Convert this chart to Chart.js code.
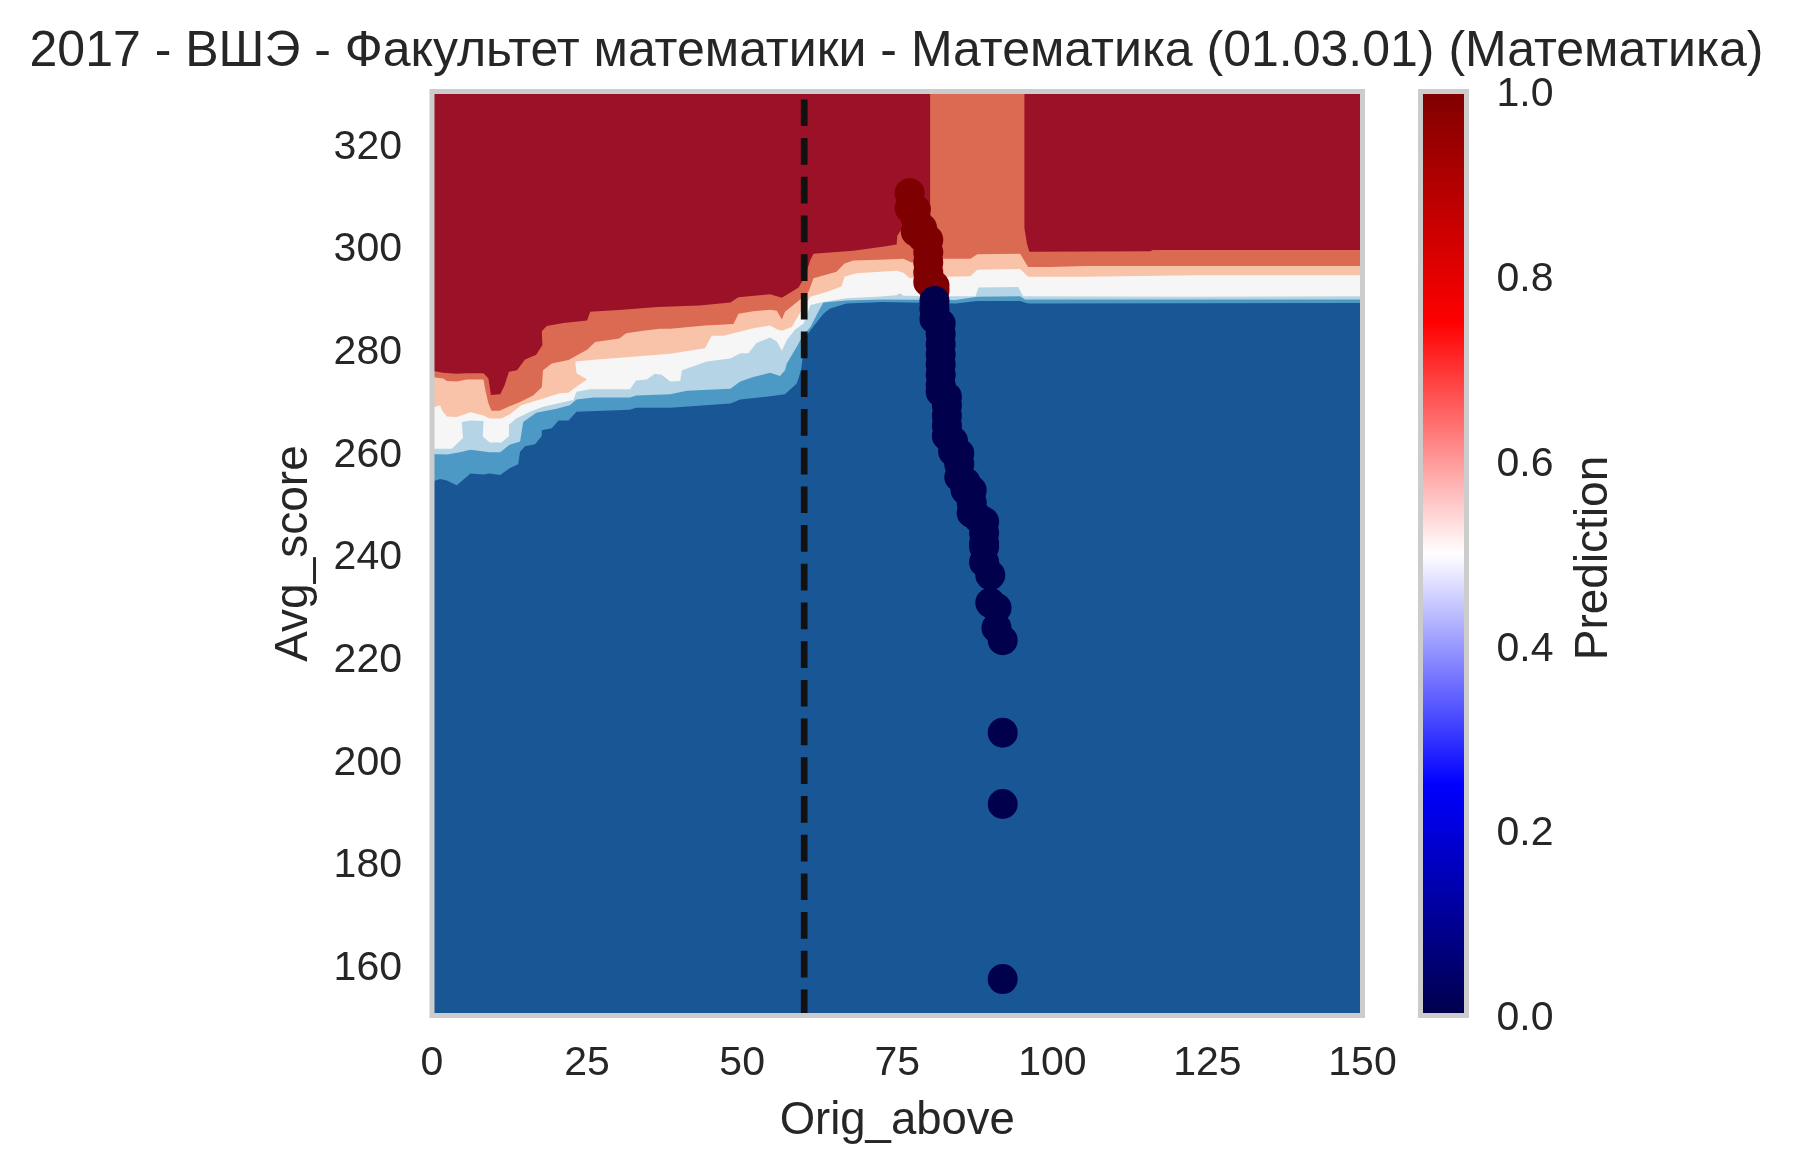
<!DOCTYPE html>
<html>
<head>
<meta charset="utf-8">
<title>Prediction</title>
<script src="https://cdn.jsdelivr.net/npm/chart.js@4"></script>
<style>
  html, body { margin: 0; padding: 0; background: #fff; }
  canvas { position: absolute; left: 0; top: 0; }
</style>
</head>
<body>
<canvas id="main" width="1793" height="1173"></canvas>
<canvas id="cbar" width="1793" height="1173"></canvas>
<script>
// values, [Orig_above, Avg_score]
const titleText = '2017 - ВШЭ - Факультет математики - Математика (01.03.01) (Математика)';
const xTicks = [0, 25, 50, 75, 100, 125, 150];
const yTicks = [160, 180, 200, 220, 240, 260, 280, 300, 320];
const cbarTicks = [0, 0.2, 0.4, 0.6, 0.8, 1];
const thresholdX = 60;

// contour band edges, top to bottom
const edgeTop = [[0,330],[150,330]];
const edgeRedOrange = [[0,275.6],[1.8,275.2],[4,275],[5.6,275.1],[8.3,275.1],[9.1,274.1],[9.5,270.9],[11,271],[11.7,272.8],[12.4,275.4],[13.7,275.7],[15,277.8],[16.8,278.7],[17.8,280.6],[17.7,283.3],[18.5,284.3],[21.2,284.9],[25,285.4],[25.5,287.1],[30.7,287.5],[36.3,288],[43.1,288.3],[48.1,288.9],[49.4,289.9],[54.5,290.5],[56.4,289.8],[59.1,291.8],[59.6,292.9],[60.6,295.7],[61,297.2],[61.5,298.4],[67.9,299],[72.9,299.8],[74.9,300.2],[75,301.9],[76,303.7],[80.3,303.7],[80.3,330],[95.5,330],[95.5,303.4],[95.9,300.4],[96.3,298.8],[115.8,298.9],[116.2,299.1],[150,299.1]];
const edgeOrangePeach = [[0,274.4],[1.8,274.1],[2.4,273.6],[4,273.5],[5.6,273.9],[8.3,273.9],[8.6,271.8],[9.1,269.2],[9.6,267.8],[10.9,267.8],[12.5,268.7],[14.2,269.5],[16.3,270.8],[17.7,272.4],[17.9,275.7],[19.3,277],[22,277.7],[25,279.7],[26.3,281.2],[30.2,281.9],[31.3,282.9],[34,283.4],[36.7,283.8],[38.4,283.8],[44,284.4],[48.6,284.7],[49.4,286.7],[51.8,287.2],[54.5,287.5],[55.6,287.3],[56.4,285.6],[56.9,287.1],[59.6,289.7],[60.7,291],[61.5,293.6],[65.2,294.9],[66.5,296.5],[67.9,297.1],[72.2,297.2],[76,297.4],[77.3,296.7],[82.5,297.4],[86.8,297.4],[87.9,298.3],[94.8,298.4],[96.1,295.8],[99.7,295.8],[105.2,296],[150,296]];
const edgePeachWhite = [[0,268.4],[1.3,268.9],[1.6,267.9],[2.4,266.7],[4,266.6],[6.2,267.5],[8.3,266.9],[9.3,266.3],[11.2,266.3],[12.5,267.1],[14.4,268.9],[17.9,270.2],[20.6,271.2],[22,271.3],[23.6,272.8],[25,273.9],[23.3,275.1],[23.1,277.4],[26.6,277.8],[32.9,278.4],[38.4,278.9],[44,280],[45.1,282.4],[47,282.4],[48.6,282.9],[51.8,283.9],[54.5,284.4],[55.6,283.7],[56.4,283.4],[58,284.1],[59.1,286.4],[61,290],[63.7,291],[66,292],[66.5,293.9],[68.4,294.6],[74.9,295.1],[76,294.7],[77,293.6],[83.3,293.9],[86.8,294],[87.9,295.3],[94.8,295.4],[96.1,293.9],[105.2,293.9],[123,294.2],[150,294.2]];
const edgeWhiteLight = [[0,260.4],[3.2,260.4],[5,262.5],[4.8,265.6],[6.2,265.9],[8.3,265.8],[8.2,262.8],[9.3,261.6],[11.2,261.6],[12.3,262.8],[12.4,265.1],[13.6,266.3],[15.8,267.6],[17.9,268.6],[20.6,269.3],[22.8,269.9],[23.3,271.5],[25.5,272],[31.9,272],[32.9,273.7],[34.6,273.9],[35.9,275],[37,274.8],[38.4,273.5],[40,273.6],[40.3,275.7],[44.3,277.4],[48.1,278],[49.7,279],[51,279],[52.3,281],[54.5,282.1],[55.6,281.3],[56.4,279.5],[57.2,281.6],[58.5,283.6],[59.9,284.8],[61,288.4],[63.1,289],[66.8,289.7],[71.7,290],[74.9,290.3],[75.4,290.7],[76,290.2],[84.4,290.1],[87.6,290.1],[88.1,291.8],[94.5,291.9],[95.3,290.1],[123,290],[150,290.1]];
const edgeLightMid = [[0,259.4],[2.4,259.3],[4.5,259.7],[6.2,260.2],[9.3,259.7],[11,259.7],[12.5,261.2],[14.2,261.8],[14.7,265.6],[16.8,267.4],[20.1,268.2],[22.2,268.9],[23.3,270],[26,270.4],[31.9,270.4],[32.9,270.8],[38.4,271],[41.1,271.7],[48.1,272.1],[49.7,273.5],[51.8,274.4],[54.5,275.2],[56.1,274.6],[56.9,275.7],[57.2,277],[58.8,280.3],[59.6,282.1],[61,284.1],[62.1,286.7],[63.1,288.9],[66.8,289.3],[72.7,289.5],[84.4,289.4],[87.9,290],[94.8,290.1],[95.6,289.5],[150,289.5]];
const edgeMidDark = [[0,254],[1.3,254.5],[2.4,254.2],[4,253.3],[6.2,255.6],[8.3,255.4],[9.3,255.6],[11,255.3],[12.5,256.6],[13.9,257.4],[14.2,259.8],[15,260.9],[16.6,261.3],[17.7,262.9],[17.7,264],[19.3,264.4],[20.4,265.9],[22,265.9],[23.3,267.6],[31.9,268],[32.9,268.4],[38.4,268.4],[48.1,269.2],[49.7,270],[54.2,270.6],[56.9,271],[58.8,273.1],[59.5,275.7],[59.7,277.7],[60.1,282.1],[61,283.5],[63.1,286.7],[64.1,287.7],[66.8,288.7],[72.7,289],[84.4,288.7],[87.9,289.2],[94.8,289.2],[96.1,288.7],[150,288.8]];

// admitted / rejected points
const pointsHigh = [[77,310.2],[77,307.3],[78,307],[78,305.2],[78,302.7],[79,303.4],[79,301.7],[80,301.1],[80,298.7],[80,296.7],[80,294.7],[80,292.9],[81,292.2],[81,291.2]];
const pointsLow = [[81,289.2],[81,287.7],[81,285.7],[82,284.8],[82,282.8],[82,280.8],[82,278.8],[82,276.8],[82,274.8],[82,272.8],[82,271.5],[83,270.5],[83,268.8],[83,266.8],[83,264.9],[83,262.9],[84,261.9],[84,259.9],[85,259.5],[85,257.4],[85,254.9],[86,253.9],[86,252.4],[87,252.3],[87,249.9],[87,247.9],[88,247],[89,246.2],[89,244],[89,242],[89,241.3],[89,238.3],[90,235.8],[90,230.4],[91,229.4],[91,225.5],[92,223.1],[92,205.1],[92,191.2],[92,157.1]];

const gridColor = '#cccccc';
const textColor = '#262626';
const fontName = "'Liberation Sans', Arial, sans-serif";
Chart.defaults.font.family = fontName;
Chart.defaults.color = textColor;
Chart.defaults.animation = false;

const toXY = pairs => pairs.map(p => ({ x: p[0], y: p[1] }));

function band(edge, color, order) {
  return { data: toXY(edge), backgroundColor: color, borderWidth: 0, pointRadius: 0, fill: 'start', tension: 0, order: order };
}
function dots(points, color, order) {
  return { data: toXY(points), showLine: false, pointRadius: 15, pointBorderWidth: 0, pointBackgroundColor: color, order: order };
}

// spines on all four sides, centred on the axis limits
const frame = {
  id: 'frame',
  afterDraw(chart) {
    const a = chart.chartArea, c = chart.ctx;
    c.save();
    c.strokeStyle = gridColor;
    c.lineWidth = 5;
    c.strokeRect(a.left, a.top, a.right - a.left, a.bottom - a.top);
    c.restore();
  }
};

// tick digits sit a little lower than canvas 'middle'
function nudgeTicks(dy) {
  return {
    id: 'nudgeTicks',
    beforeDraw(chart) {
      chart.scales.y.getLabelItems().forEach(i => { i.options.translation[1] += dy; });
    }
  };
}

new Chart(document.getElementById('main'), {
  type: 'line',
  data: {
    datasets: [
      band(edgeTop, '#9b1127', 20),
      band(edgeRedOrange, '#db6a52', 19),
      band(edgeOrangePeach, '#f9c3a9', 18),
      band(edgePeachWhite, '#f6f6f6', 17),
      band(edgeWhiteLight, '#b5d5e6', 16),
      band(edgeLightMid, '#4d99c5', 15),
      band(edgeMidDark, '#195696', 14),
      { data: toXY([[thresholdX, 330], [thresholdX, 150]]), borderColor: '#111111', borderWidth: 6.7, borderDash: [26.7, 12], borderDashOffset: 30.8, pointRadius: 0, fill: false, order: 3 },
      dots(pointsHigh, '#7f0000', 2),
      dots(pointsLow, '#00004c', 1)
    ]
  },
  options: {
    responsive: false,
    events: [],
    plugins: {
      legend: { display: false },
      tooltip: { enabled: false },
      title: {
        display: true,
        text: titleText,
        color: textColor,
        font: { size: 50, weight: 'normal' },
        lineHeight: 1.2,
        padding: { top: 22.5, bottom: 9 }
      }
    },
    scales: {
      x: {
        type: 'linear', min: 0, max: 150,
        grid: { display: false, drawTicks: false },
        border: { display: false },
        afterBuildTicks: s => { s.ticks = xTicks.map(v => ({ value: v })); },
        afterFit: s => { s.height = 157.5; },
        ticks: { font: { size: 41 }, padding: 23.5, maxRotation: 0, autoSkip: false },
        title: { display: true, text: 'Orig_above', font: { size: 45.5 }, padding: { top: 0, bottom: 24 } }
      },
      y: {
        type: 'linear', min: 150, max: 330,
        grid: { display: false, drawTicks: false },
        border: { display: false },
        afterBuildTicks: s => { s.ticks = yTicks.map(v => ({ value: v })); },
        afterFit: s => { s.width = 432; },
        ticks: { font: { size: 41 }, padding: 30, autoSkip: false },
        title: { display: true, text: 'Avg_score', font: { size: 46 }, padding: { top: 267, bottom: 0 } }
      },
      // holds the space taken by the colorbar
      ghost: {
        type: 'linear', position: 'right',
        grid: { display: false, drawTicks: false },
        border: { display: false },
        ticks: { display: false },
        afterFit: s => { s.width = 430.5; }
      }
    }
  },
  plugins: [frame, nudgeTicks(4.6)]
});

// colorbar: seismic map on one floating bar
const seismicStops = [[0, '#00004c'], [0.25, '#0000ff'], [0.5, '#ffffff'], [0.75, '#ff0000'], [1, '#7f0000']];

const cbarLabel = {
  id: 'cbarLabel',
  afterDraw(chart) {
    const c = chart.ctx, a = chart.chartArea;
    c.save();
    c.translate(1607, (a.top + a.bottom) / 2 + 4.5);
    c.rotate(-Math.PI / 2);
    c.textAlign = 'center';
    c.textBaseline = 'alphabetic';
    c.fillStyle = textColor;
    c.font = '46px ' + fontName;
    c.fillText('Prediction', 0, 0);
    c.restore();
  }
};

new Chart(document.getElementById('cbar'), {
  type: 'bar',
  data: {
    labels: ['Prediction'],
    datasets: [{
      data: [[0, 1]],
      barPercentage: 1,
      categoryPercentage: 1,
      backgroundColor(ctx) {
        const a = ctx.chart.chartArea;
        if (!a) return '#ffffff';
        const g = ctx.chart.ctx.createLinearGradient(0, a.bottom, 0, a.top);
        seismicStops.forEach(s => g.addColorStop(s[0], s[1]));
        return g;
      }
    }]
  },
  options: {
    responsive: false,
    events: [],
    layout: { padding: { left: 1420.5, right: 100, top: 91.5, bottom: 157.5 } },
    plugins: { legend: { display: false }, tooltip: { enabled: false } },
    scales: {
      x: { display: false },
      y: {
        position: 'right', min: 0, max: 1,
        grid: { display: false, drawTicks: false },
        border: { display: false },
        afterBuildTicks: s => { s.ticks = cbarTicks.map(v => ({ value: v })); },
        afterFit: s => { s.width = 226.5; },
        ticks: { font: { size: 41 }, padding: 30, callback: v => v.toFixed(1) }
      }
    }
  },
  plugins: [frame, cbarLabel, nudgeTicks(3.4)]
});
</script>
</body>
</html>
